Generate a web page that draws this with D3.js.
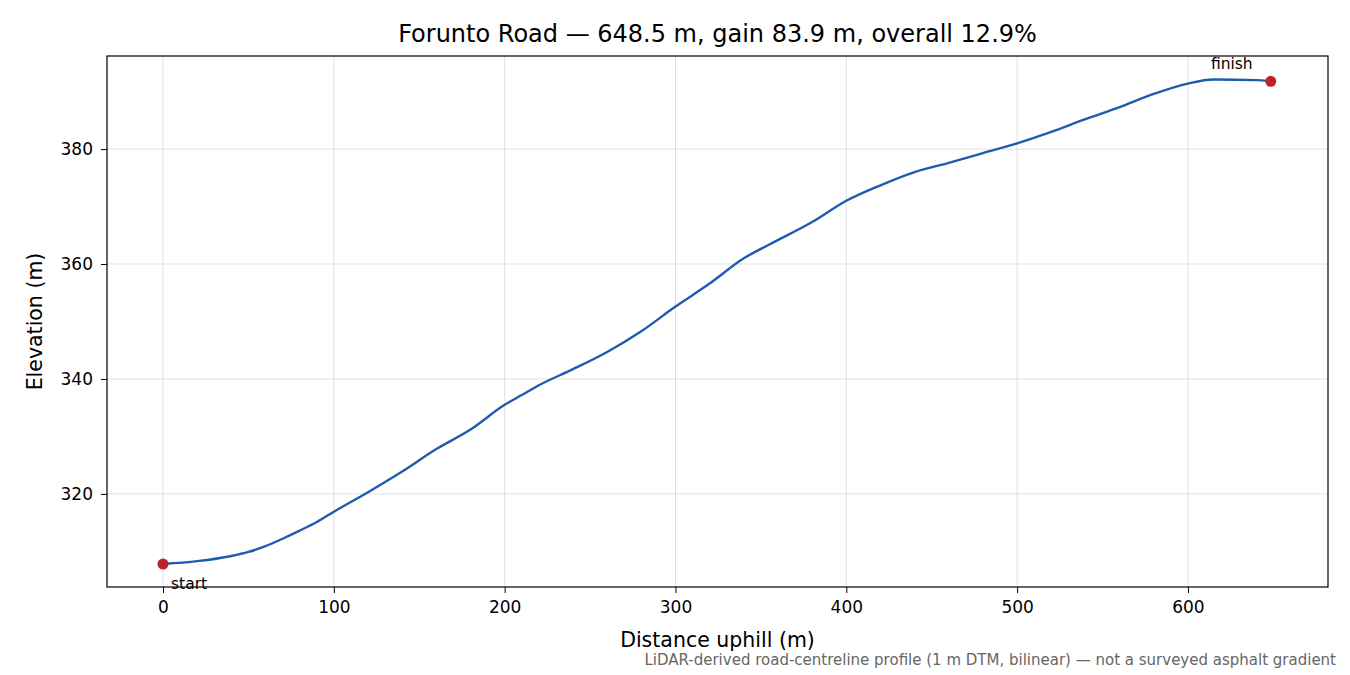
<!DOCTYPE html>
<html><head><meta charset="utf-8">
<script src="https://cdn.jsdelivr.net/npm/d3@7"></script>
<style>body{margin:0;background:#fff;font-family:"DejaVu Sans",sans-serif}</style>
</head><body><svg id="c" width="1350" height="675"></svg>
<script>
// profile
var dist = [0,20,40,50,60,70,80,90,100,120,140,160,180,200,210,220,240,260,280,300,320,340,355,380,400,420,440,460,480,500,520,540,560,580,600,615,640,648.5];
var elev = [307.8,308.3,309.2,309.9,310.9,312.2,313.6,315.1,316.9,320.3,323.9,327.8,331.2,335.5,337.2,338.9,341.7,344.7,348.3,352.6,356.6,361.0,363.4,367.3,371.0,373.7,376.0,377.6,379.3,381.0,383.0,385.2,387.3,389.6,391.4,392.1,392.0,391.8];
var xTicks = [0,100,200,300,400,500,600];
var yTicks = [320,340,360,380];

var svg = d3.select("#c");
var L = 107, R = 1328, T = 56, B = 587;
var x = d3.scaleLinear().domain([-32.8, 682]).range([L, R]);
var y = d3.scaleLinear().domain([303.8, 396.2]).range([B, T]);
var pts = dist.map(function(d, i) { return [d, elev[i]]; });

// grid
svg.append("g").selectAll("line").data(xTicks).join("line")
  .attr("x1", d => x(d)).attr("x2", d => x(d)).attr("y1", T).attr("y2", B)
  .attr("stroke", "#000").attr("stroke-opacity", 0.12);
svg.append("g").selectAll("line").data(yTicks).join("line")
  .attr("y1", d => y(d)).attr("y2", d => y(d)).attr("x1", L).attr("x2", R)
  .attr("stroke", "#000").attr("stroke-opacity", 0.12);

// axes
var gx = svg.append("g").attr("transform", "translate(0," + B + ")")
  .call(d3.axisBottom(x).tickValues(xTicks).tickSize(6).tickPadding(8));
var gy = svg.append("g").attr("transform", "translate(" + L + ",0)")
  .call(d3.axisLeft(y).tickValues(yTicks).tickSize(6).tickPadding(8));
[gx, gy].forEach(function(g) {
  g.select(".domain").remove();
  g.selectAll("text").attr("font-size", 17).attr("fill", "#000").attr("font-family", "DejaVu Sans");
  g.selectAll("line").attr("stroke", "#000");
});
svg.append("rect").attr("x", L).attr("y", T).attr("width", R - L).attr("height", B - T)
  .attr("fill", "none").attr("stroke", "#000").attr("stroke-width", 1.2);

// line
svg.append("path").datum(pts)
  .attr("d", d3.line().x(d => x(d[0])).y(d => y(d[1])).curve(d3.curveMonotoneX))
  .attr("fill", "none").attr("stroke", "#1f5bb0").attr("stroke-width", 2.4);

// endpoints
var ends = [pts[0], pts[pts.length - 1]];
svg.selectAll("circle").data(ends).join("circle")
  .attr("cx", d => x(d[0])).attr("cy", d => y(d[1])).attr("r", 5.5).attr("fill", "#c0202a");
svg.append("text").attr("x", x(pts[0][0]) + 8).attr("y", y(pts[0][1]) + 25)
  .attr("font-size", 15.5).text("start");
svg.append("text").attr("x", x(pts[pts.length-1][0]) - 39).attr("y", y(pts[pts.length-1][1]) - 12)
  .attr("text-anchor", "middle").attr("font-size", 15.5).text("finish");

// labels
svg.append("text").attr("x", (L + R) / 2).attr("y", 42).attr("text-anchor", "middle")
  .attr("font-size", 24).text("Forunto Road — 648.5 m, gain 83.9 m, overall 12.9%");
svg.append("text").attr("x", (L + R) / 2).attr("y", 647).attr("text-anchor", "middle")
  .attr("font-size", 20.5).text("Distance uphill (m)");
svg.append("text").attr("transform", "translate(42," + (T + B) / 2 + ") rotate(-90)")
  .attr("text-anchor", "middle").attr("font-size", 20.5).text("Elevation (m)");
svg.append("text").attr("x", 1336).attr("y", 665).attr("text-anchor", "end")
  .attr("font-size", 15).attr("fill", "#666")
  .text("LiDAR-derived road-centreline profile (1 m DTM, bilinear) — not a surveyed asphalt gradient");
</script></body></html>
